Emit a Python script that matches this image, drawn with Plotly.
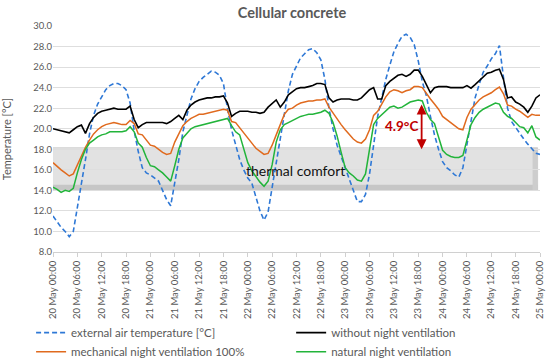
import pandas as pd
import plotly.graph_objects as go

# ---- data (hourly, 20 May 00:00 .. 25 May 00:00) ----
start = "2021-05-20 00:00"
n_hours = 121

external = [11.5, 10.9, 10.4, 10.0, 9.5, 10.0, 12.2, 14.5, 17.0, 19.5,
            21.3, 22.4, 23.1, 23.8, 24.2, 24.4, 24.4, 24.2, 23.8, 22.5,
            19.8, 17.8, 16.2, 15.7, 15.5, 15.2, 14.9, 14.0, 13.1, 12.5,
            14.6, 17.0, 19.7, 21.4, 22.9, 23.9, 24.6, 25.0, 25.3, 25.6,
            25.5, 25.2, 24.4, 21.9, 19.9, 18.3, 17.0, 16.0, 15.2, 14.7,
            13.3, 12.0, 11.1, 11.9, 14.3, 16.8, 19.2, 21.4, 23.7, 25.3,
            26.1, 26.9, 27.3, 27.7, 27.8, 27.4, 26.7, 24.8, 22.0, 20.0,
            18.4, 17.3, 16.4, 15.2, 14.0, 12.9, 12.9, 13.6, 15.6, 18.4,
            21.2, 23.0, 24.8, 26.2, 27.5, 28.3, 29.0, 29.2, 28.9, 28.2,
            26.6, 24.6, 23.2, 21.2, 19.4, 18.0, 16.8, 16.2, 15.9, 15.5,
            15.3, 16.2, 18.6, 21.0, 23.0, 24.3, 25.5, 26.1, 26.8, 27.3,
            28.1, 25.0, 22.0, 20.7, 20.1, 19.5, 19.0, 18.5, 18.1, 17.6,
            17.5]

without_nv = [20.0, 19.9, 19.8, 19.7, 19.6, 19.9, 20.2, 20.35, 19.55, 20.5,
              21.1, 21.5, 21.7, 21.8, 21.9, 22.0, 21.9, 21.9, 21.9, 22.2,
              20.9, 20.1, 20.4, 20.6, 20.6, 20.6, 20.6, 20.6, 20.5, 20.7,
              21.0, 21.3, 20.9, 21.8, 22.3, 22.6, 22.8, 22.9, 23.0, 23.0,
              23.1, 23.1, 23.2, 22.5, 21.2, 21.5, 21.7, 21.7, 21.7, 21.6,
              21.6, 21.5, 21.6, 22.1, 22.5, 22.8, 22.1, 22.6, 23.3, 23.6,
              23.9, 24.0, 24.0, 24.1, 24.2, 24.4, 24.4, 24.3, 23.0, 22.6,
              22.8, 22.9, 22.9, 22.9, 22.8, 22.8, 23.0, 23.4, 23.8, 24.0,
              22.9, 22.9, 24.2, 24.6, 24.9, 25.2, 25.3, 25.1, 25.3, 25.7,
              25.7, 25.1, 24.3, 23.5, 24.0, 24.1, 24.1, 24.1, 24.0, 24.0,
              23.95, 24.0, 24.2, 23.95, 24.3, 24.7, 25.1, 25.4, 25.5, 25.7,
              25.8, 24.8, 23.0, 23.1, 22.6, 22.4, 22.1, 21.6, 22.2, 23.0,
              23.3]

mechanical_nv = [16.7, 16.3, 16.0, 15.7, 15.4, 15.6, 16.5, 17.4, 18.2, 18.9,
                 19.5, 19.9, 20.2, 20.4, 20.5, 20.6, 20.5, 20.4, 20.4, 20.8,
                 20.5, 19.5, 19.4, 18.9, 18.4, 18.3, 18.0, 17.7, 17.5, 17.6,
                 18.7, 19.5, 20.3, 20.7, 21.0, 21.2, 21.4, 21.4, 21.5, 21.6,
                 21.7, 21.8, 21.9, 21.8, 20.7, 20.6, 20.1, 19.6, 19.1, 18.5,
                 18.1, 17.8, 17.5, 17.6, 18.4, 19.4, 20.4, 21.4, 21.9, 22.0,
                 22.3, 22.5, 22.6, 22.7, 22.7, 22.8, 22.8, 22.9, 22.1, 21.5,
                 20.9, 20.4, 19.9, 19.4, 19.0, 18.7, 18.6, 19.0, 19.9, 21.3,
                 21.7, 22.4, 23.1, 23.6, 23.8, 23.7, 23.5, 23.7, 23.8, 24.1,
                 24.1, 24.0, 23.4, 22.9, 22.4, 21.9, 21.2, 20.9, 20.6, 20.3,
                 20.0, 19.9, 21.1, 21.9, 22.4, 22.8, 23.1, 23.3, 23.5, 23.8,
                 24.05, 23.4, 22.3, 22.2, 21.9, 21.7, 21.4, 21.1, 21.4, 21.3,
                 21.3]

natural_nv = [14.3, 14.1, 13.8, 14.0, 13.9, 14.2, 15.7, 17.0, 18.0, 18.6,
              18.9, 19.2, 19.4, 19.5, 19.7, 19.7, 19.7, 19.7, 19.8, 20.2,
              19.7, 18.6, 18.2, 17.2, 16.4, 16.3, 16.0, 15.7, 15.3, 14.9,
              16.4, 18.0, 19.1, 19.6, 20.0, 20.2, 20.3, 20.4, 20.5, 20.6,
              20.7, 20.8, 20.9, 21.0, 20.3, 19.7, 19.4, 18.1, 16.7, 15.9,
              15.3, 14.8, 14.4, 14.9, 16.5, 18.7, 19.9, 20.4, 20.6, 20.8,
              21.0, 21.2, 21.3, 21.4, 21.4, 21.5, 21.6, 21.8, 21.5, 20.6,
              19.3, 17.7, 16.2, 15.7, 15.4, 15.0, 14.9, 15.6, 18.0, 20.4,
              21.0, 21.4, 21.8, 22.1, 22.2, 22.0, 22.1, 22.35, 22.6, 22.7,
              22.8, 22.7, 21.6, 20.9, 20.5, 19.2, 17.9, 17.5, 17.3, 17.2,
              17.2, 17.4, 18.8, 20.4, 21.1, 21.6, 21.9, 22.1, 22.3, 22.5,
              22.4, 21.6, 21.2, 21.0, 20.6, 20.2, 20.1, 19.6, 20.3, 19.2,
              18.9]

series_names = ["external air temperature [°C]", "without night ventilation",
                "mechanical night ventilation 100%", "natural night ventilation"]

tick_labels = ["20 May 00:00", "20 May 06:00", "20 May 12:00", "20 May 18:00",
               "21 May 00:00", "21 May 06:00", "21 May 12:00", "21 May 18:00",
               "22 May 00:00", "22 May 06:00", "22 May 12:00", "22 May 18:00",
               "23 May 00:00", "23 May 06:00", "23 May 12:00", "23 May 18:00",
               "24 May 00:00", "24 May 06:00", "24 May 12:00", "24 May 18:00",
               "25 May 00:00"]

comfort_low, comfort_high = 14.0, 18.15
diff_label = "4.9°C"
diff_time = "2021-05-23 18:50"
diff_top, diff_bottom = 22.5, 18.0

# ---- figure ----
times = pd.date_range(start, periods=n_hours, freq="h")
tick_vals = pd.date_range(start, periods=len(tick_labels), freq="6h")

FONT = "Lato, 'Open Sans', sans-serif"
GREY = "#595959"

fig = go.Figure()
fig.add_trace(go.Scatter(x=times, y=external, name=series_names[0], mode="lines",
                         legend="legend",
                         line=dict(color="#2E78D6", width=1.6, dash="5px,3px")))
fig.add_trace(go.Scatter(x=times, y=without_nv, name=series_names[1], mode="lines",
                         legend="legend2",
                         line=dict(color="#000000", width=1.6)))
fig.add_trace(go.Scatter(x=times, y=mechanical_nv, name=series_names[2], mode="lines",
                         legend="legend",
                         line=dict(color="#E06A1E", width=1.5)))
fig.add_trace(go.Scatter(x=times, y=natural_nv, name=series_names[3], mode="lines",
                         legend="legend2",
                         line=dict(color="#22B43A", width=1.5)))

# thermal comfort band
t_left = pd.Timestamp(start) - pd.Timedelta(minutes=30)
t_right = pd.Timestamp(start) + pd.Timedelta(hours=119, minutes=25)
t_right_in = pd.Timestamp(start) + pd.Timedelta(hours=118, minutes=10)
fig.add_shape(type="rect", xref="x", yref="y", x0=t_left, x1=t_right,
              y0=comfort_low, y1=comfort_high, layer="below",
              fillcolor="#e2e2e2", line=dict(color="#d2d2d2", width=1))
fig.add_shape(type="rect", xref="x", yref="y", x0=t_left, x1=t_right,
              y0=comfort_low, y1=comfort_low + 0.55, layer="below",
              fillcolor="#c6c6c6", line=dict(width=0))
fig.add_shape(type="rect", xref="x", yref="y", x0=t_right_in, x1=t_right,
              y0=comfort_low, y1=comfort_high, layer="below",
              fillcolor="#cdcdcd", line=dict(width=0))

fig.add_annotation(x=pd.Timestamp("2021-05-22 11:50"), y=15.95, text="thermal comfort",
                   showarrow=False, font=dict(family=FONT, size=14, color="#111111"))

# difference arrow
fig.add_annotation(x=pd.Timestamp(diff_time), y=diff_bottom, ax=pd.Timestamp(diff_time),
                   ay=diff_top, xref="x", yref="y", axref="x", ayref="y", text="",
                   showarrow=True, arrowhead=2, startarrowhead=2, arrowside="end+start",
                   arrowsize=1.1, startarrowsize=1.1, arrowwidth=1.8, arrowcolor="#C00000")
fig.add_annotation(x=pd.Timestamp("2021-05-23 13:50"), y=20.25, text="<b>%s</b>" % diff_label,
                   showarrow=False, font=dict(family=FONT, size=13.5, color="#C00000"))

legend_common = dict(orientation="v", xanchor="left", yanchor="bottom", y=-0.505,
                     tracegroupgap=0, itemwidth=30, bgcolor="rgba(0,0,0,0)",
                     font=dict(family=FONT, size=11.5, color=GREY))

fig.update_layout(
    width=550, height=361,
    margin=dict(l=53, r=10, t=26, b=109, autoexpand=False),
    paper_bgcolor="white", plot_bgcolor="white",
    font=dict(family=FONT, color=GREY, size=10),
    title=dict(text="<b>Cellular concrete</b>", x=0.531, xanchor="center", y=0.965,
               yanchor="middle", font=dict(family=FONT, size=14.5, color=GREY)),
    showlegend=True,
    legend=dict(x=-0.045, **legend_common),
    legend2=dict(x=0.489, **legend_common),
)

fig.update_xaxes(type="date", range=[times[0], times[-1]], tickvals=tick_vals,
                 ticktext=tick_labels, tickangle=-90, showgrid=False, automargin=False,
                 showline=True, linecolor="#d0d0d0", linewidth=1,
                 ticks="outside", ticklen=4, tickcolor="#d0d0d0",
                 ticklabeloverflow="allow",
                 tickfont=dict(family=FONT, size=9.5, color=GREY), zeroline=False)
fig.update_yaxes(range=[8, 30], dtick=2, tick0=8, tickformat=".1f", automargin=False,
                 showgrid=True, gridcolor="#dedede", gridwidth=1, zeroline=False,
                 showline=False, ticks="",
                 tickfont=dict(family=FONT, size=9.5, color=GREY),
                 title=dict(text="Temperature [°C]", standoff=20,
                            font=dict(family=FONT, size=11, color=GREY)))

fig.write_html("out.html", config={"displayModeBar": False},
               post_script="document.body.style.margin='0px';document.body.style.overflow='hidden';")
